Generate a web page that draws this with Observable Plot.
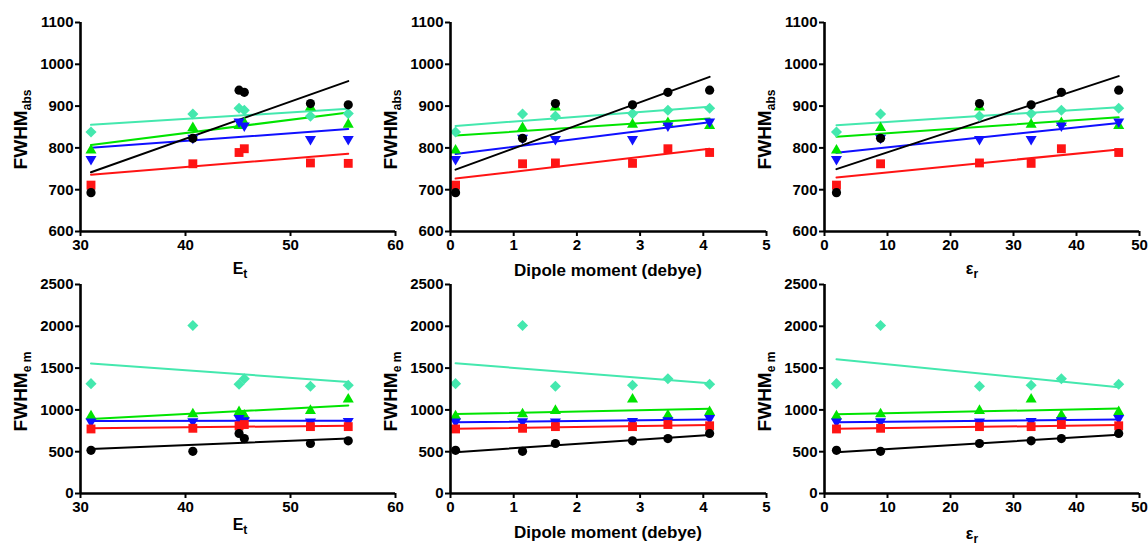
<!DOCTYPE html>
<html><head><meta charset="utf-8">
<script src="https://cdn.jsdelivr.net/npm/d3@7"></script>
<script src="https://cdn.jsdelivr.net/npm/@observablehq/plot@0.6"></script>
<style>
body{margin:0;background:#fff;}
#wrap{position:relative;width:1148px;height:545px;overflow:hidden;}
#wrap svg{position:absolute;left:0;top:0;}
</style></head><body><div id="wrap"></div>
<script>
// Solvents (order): cyclohexane, dichloromethane, ethanol, methanol, acetonitrile, DMSO
const solvents = ["Cyclohexane","Dichloromethane","Ethanol","Methanol","Acetonitrile","DMSO"];
const Et     = [31.0, 40.7, 51.9, 55.5, 45.6, 45.1];
const dipole = [0.08, 1.14, 1.66, 2.88, 3.44, 4.10];
const epsR   = [1.9, 8.9, 24.6, 32.8, 37.6, 46.7];

// FWHM of absorption (top row), per series
const absBlack = [693, 823, 906, 903, 933, 938];
const absRed   = [711, 762, 764, 763, 798, 789];
const absBlue  = [773, 824, 821, 821, 853, 863];
const absGreen = [794, 848, 897, 856, 860, 853];
const absCyan  = [838, 881, 876, 882, 890, 895];

// FWHM of emission (bottom row), per series
const emBlack = [517, 505, 598, 630, 657, 718];
const emRed   = [772, 780, 800, 800, 825, 810];
const emBlue  = [860, 862, 858, 865, 875, 900];
const emGreen = [925, 950, 990, 1127, 935, 975];
const emCyan  = [1314, 2010, 1282, 1294, 1373, 1306];

const seriesNames = ["cyan","green","blue","red","black"];
const xTicksEt = [30, 40, 50, 60];
const xTicksDip = [0, 1, 2, 3, 4, 5];
const xTicksEps = [0, 10, 20, 30, 40, 50];
const yTicksAbs = [600, 700, 800, 900, 1000, 1100];
const yTicksEm = [0, 500, 1000, 1500, 2000, 2500];

const absSeries = {black: absBlack, red: absRed, blue: absBlue, green: absGreen, cyan: absCyan};
const emSeries = {black: emBlack, red: emRed, blue: emBlue, green: emGreen, cyan: emCyan};

const colors = {black: "#000000", red: "#ff1414", blue: "#1010ff", green: "#00e400", cyan: "#44e8ae"};
const sqrt3 = Math.sqrt(3);
const triDown = {draw(ctx, size) {
  const y = -Math.sqrt(size / (sqrt3 * 3));
  ctx.moveTo(0, -y * 2); ctx.lineTo(-sqrt3 * y, y); ctx.lineTo(sqrt3 * y, y); ctx.closePath();
}};
const symbols = {black: "circle", red: "square", blue: triDown, green: "triangle", cyan: "diamond2"};
const radii = {black: 4.6, red: 5.0, blue: 4.1, green: 4.1, cyan: 5.0};

const FONT = "'Liberation Sans', Arial, sans-serif";
const W = 1148, H = 545;

const cols = [
  {xs: Et, domain: [30, 60], ticks: xTicksEt, L: 80, R: 395, xl: [["E",""],["t","sub"]], xlx: 240, xbTop: 274, xbBot: 530},
  {xs: dipole, domain: [0, 5], ticks: xTicksDip, L: 450, R: 766, xl: [["Dipole moment (debye)",""]], xlx: 608, xbTop: 276, xbBot: 538},
  {xs: epsR, domain: [0, 50], ticks: xTicksEps, L: 824, R: 1139, xl: [["ε",""],["r","sub"]], xlx: 972, xbTop: 274, xbBot: 539}
];
const rows = [
  {series: absSeries, domain: [600, 1100], ticks: yTicksAbs, T: 22, B: 231, sub: "abs", top: true},
  {series: emSeries, domain: [0, 2500], ticks: yTicksEm, T: 284, B: 493, sub: "e m", top: false}
];

const wrap = document.getElementById("wrap");

for (const row of rows) {
  for (const col of cols) {
    const marks = [];
    const dataBy = {};
    for (const s of seriesNames) {
      dataBy[s] = col.xs.map((x, i) => ({x, y: row.series[s][i], solvent: solvents[i]}));
    }
    for (const s of seriesNames) {
      marks.push(Plot.linearRegressionY(dataBy[s], {x: "x", y: "y", stroke: colors[s], strokeWidth: 2, ci: 0}));
    }
    for (const s of seriesNames) {
      marks.push(Plot.dot(dataBy[s], {x: "x", y: "y", fill: colors[s], stroke: "none", symbol: symbols[s], r: radii[s]}));
    }
    marks.push(Plot.axisX({ticks: col.ticks, tickSize: 5, tickPadding: 3, strokeWidth: 2, fontSize: 15, fontWeight: "bold", label: null, tickFormat: d => String(d)}));
    marks.push(Plot.axisY({ticks: row.ticks, tickSize: 5, tickPadding: 2, strokeWidth: 2, fontSize: 15, fontWeight: "bold", label: null, tickFormat: d => String(d)}));
    marks.push(Plot.ruleX([col.domain[0]], {strokeWidth: 2.6}));
    marks.push(Plot.ruleY([row.domain[0]], {strokeWidth: 2.6}));

    const svg = Plot.plot({
      width: W, height: H,
      marginLeft: col.L, marginRight: W - col.R,
      marginTop: row.T, marginBottom: H - row.B,
      x: {domain: col.domain},
      y: {domain: row.domain},
      style: {background: "transparent", fontFamily: FONT, overflow: "visible", color: "#000"},
      marks
    });

    const sel = d3.select(svg);
    const cy = (row.T + row.B) / 2 + 3;
    const yt = sel.append("text")
      .attr("transform", `translate(${col.L - 53},${cy}) rotate(-90)`)
      .attr("text-anchor", "middle")
      .attr("font-family", FONT).attr("font-weight", "bold").attr("fill", "#000");
    yt.append("tspan").attr("font-size", 19).text("FWHM");
    yt.append("tspan").attr("font-size", 12).attr("dy", 4).text(row.sub);

    const xt = sel.append("text")
      .attr("x", col.xlx).attr("y", row.top ? col.xbTop : col.xbBot)
      .attr("text-anchor", "middle")
      .attr("font-family", FONT).attr("font-weight", "bold").attr("fill", "#000");
    for (const [txt, kind] of col.xl) {
      if (kind === "sub") xt.append("tspan").attr("font-size", 12).attr("dy", 4).text(txt);
      else xt.append("tspan").attr("font-size", col.xl.length === 1 ? 17 : 16).text(txt);
    }
    wrap.appendChild(svg);
  }
}
</script>
</body></html>
